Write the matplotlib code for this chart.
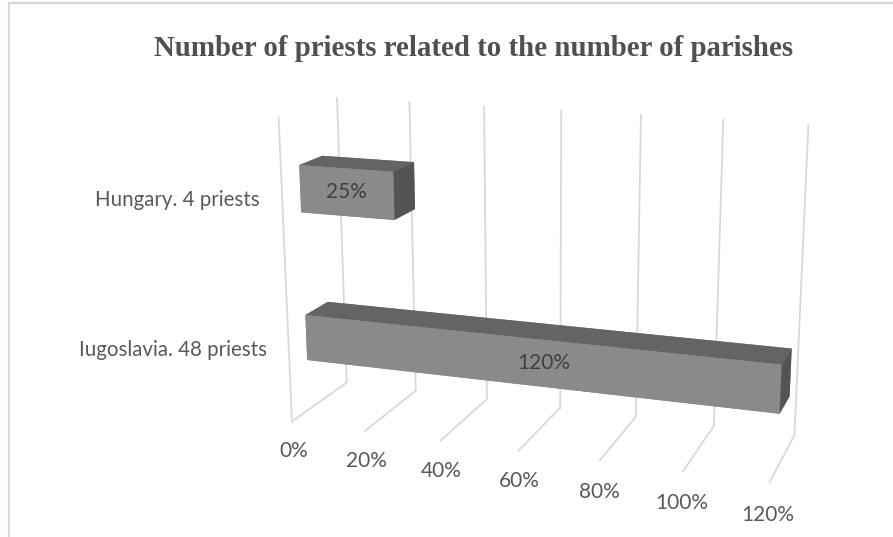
import matplotlib
matplotlib.use("Agg")
import matplotlib.pyplot as plt
from matplotlib.lines import Line2D
from mpl_toolkits.mplot3d import proj3d

categories = ["Iugoslavia. 48 priests", "Hungary. 4 priests"]
values = [120, 25]
value_labels = ["120%", "25%"]
ticks = [0, 20, 40, 60, 80, 100, 120]
tick_labels = ["0%", "20%", "40%", "60%", "80%", "100%", "120%"]

grid_color = "#d9d9d9"
text_color = "#595959"

fig = plt.figure(figsize=(8.93, 5.37), dpi=100)
w = 537 / 893
# square 3d axes, moved so the box sits where the reference has it
ax = fig.add_axes([(533 - 268.5) / 893, -0.0326, w, 1.0], projection="3d")
ax.computed_zorder = False
ax.set_proj_type("persp", focal_length=0.55)
ax.view_init(elev=15.4, azim=-71)
ax.set_box_aspect((503, 131, 320), zoom=1.098)

ax.set_xlim(0, 120, view_margin=0)
ax.set_ylim(0, 1, view_margin=0)
ax.set_zlim(0, 2, view_margin=0)
ax.set_axis_off()
ax.patch.set_alpha(0)

# side wall edge, back wall lines and floor lines
ax.plot([0, 0], [0, 0], [0, 2], color=grid_color, lw=1.3, zorder=1, clip_on=False)
for t in ticks:
    ax.plot([t, t], [1, 1], [0, 2], color=grid_color, lw=1.3, zorder=1, clip_on=False)
    ax.plot([t, t], [0, 1], [0, 0], color=grid_color, lw=1.3, zorder=1, clip_on=False)

# bars, colour order in bar3d is -z, +z, -y, +y, -x, +x
centers = [0.5, 1.5]
bar_h = 0.31
faces = ["#8a8a8a", "#646464", "#8a8a8a", "#8a8a8a", "#8a8a8a", "#545454"]
for c, v in zip(centers, values):
    ax.bar3d(0, 0.3, c - bar_h / 2, v, 0.4, bar_h, color=faces, shade=False,
             edgecolor="none", zorder=2)

font = ["Lato", "DejaVu Sans"]
M = ax.get_proj()


def put_text(x, y, z, s, ha, color, size):
    # plain 2d text at the projected point
    px, py, _ = proj3d.proj_transform(x, y, z, M)
    ax.text2D(px, py, s, transform=ax.transData, ha=ha, va="center", fontsize=size,
              color=color, family=font, zorder=5)


label_x = [63, 12.5]
for c, x, lab in zip(centers, label_x, value_labels):
    put_text(x, 0.3, c, lab, "center", "#404040", 15)
for c, name in zip(centers, categories):
    put_text(-6, 0, c - 0.03, name, "right", text_color, 14.8)
for t, lab in zip(ticks, tick_labels):
    put_text(t, 0, -0.205, lab, "center", text_color, 15)

fig.text(474 / 893, 1 - 48 / 537, "Number of priests related to the number of parishes",
         ha="center", va="center", fontsize=20.75, fontweight="bold",
         family="Liberation Serif", color="#505050")

# chart border, only top and left are in the crop
fig.add_artist(Line2D([8.5 / 893, 1], [1 - 3 / 537, 1 - 3 / 537], color=grid_color, lw=1.6))
fig.add_artist(Line2D([8.5 / 893, 8.5 / 893], [0, 1 - 3 / 537], color=grid_color, lw=1.6))

fig.savefig("out.png", dpi=100)
